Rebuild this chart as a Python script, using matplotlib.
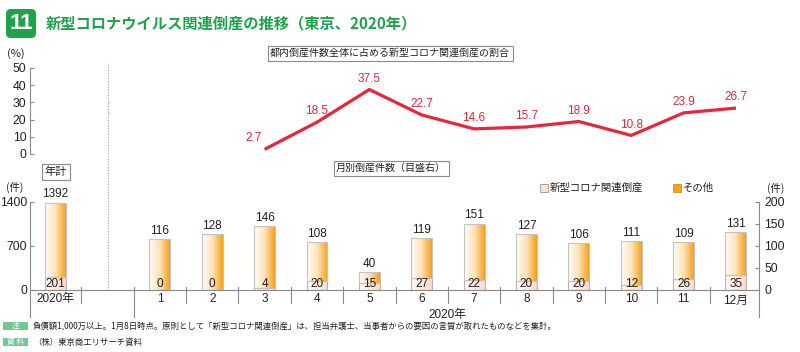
import numpy as np
import matplotlib
matplotlib.use("Agg")
import matplotlib.pyplot as plt
import matplotlib.transforms as mtransforms
from matplotlib.colors import LinearSegmentedColormap
from matplotlib.patches import FancyBboxPatch, Rectangle

# ---------------- data ----------------
year_label = "2020年"
year_total = 1392
year_corona = 201

months = np.arange(1, 13)
month_labels = ["1", "2", "3", "4", "5", "6", "7", "8", "9", "10", "11", "12月"]
month_total = [116, 128, 146, 108, 40, 119, 151, 127, 106, 111, 109, 131]
month_corona = [0, 0, 4, 20, 15, 27, 22, 20, 20, 12, 26, 35]

ratio_months = np.arange(3, 13)
ratio_values = [2.7, 18.5, 37.5, 22.7, 14.6, 15.7, 18.9, 10.8, 23.9, 26.7]

title = "新型コロナウイルス関連倒産の推移（東京、2020年）"
note = "負債額1,000万以上。1月8日時点。原則として「新型コロナ関連倒産」は、担当弁護士、当事者からの要因の言質が取れたものなどを集計。"
source = "（株）東京商工リサーチ資料"

# ---------------- style ----------------
NUM = ["Liberation Sans Narrow", "Liberation Sans", "Noto Sans CJK JP", "DejaVu Sans"]
JP = ["Noto Sans CJK JP", "DejaVu Sans"]
plt.rcParams["font.family"] = NUM
TXT = "#231f20"
GRAY = "#8a8a8a"
RED = "#e8253a"
GREEN = "#1fa24b"

W, H = 800, 352
fig = plt.figure(figsize=(W / 100, H / 100), dpi=100)


def fx(x):
    return x / W


def fy(y):
    return 1 - y / H


xl = (-1.48, 12.44)
year_x = -1.0
bar_w = 0.4

# ---------------- top panel (ratio line) ----------------
axt = fig.add_axes([fx(30), fy(154), 729 / W, 86 / H])
axt.set_xlim(*xl)
axt.set_ylim(0, 50)
axt.patch.set_visible(False)
for s in ["top", "right", "bottom"]:
    axt.spines[s].set_visible(False)
axt.spines["left"].set_color(GRAY)
axt.spines["left"].set_linewidth(0.8)
axt.set_xticks([])
axt.set_yticks(np.arange(0, 51, 10))
axt.tick_params(axis="y", direction="in", length=3, color=GRAY, labelsize=8.8,
                labelcolor=TXT, pad=2.5)

axt.plot(ratio_months, ratio_values, color=RED, lw=2.3, solid_joinstyle="miter",
         solid_capstyle="butt")
for i, (m, v) in enumerate(zip(ratio_months, ratio_values)):
    if i == 0:
        axt.annotate(f"{v}", (m, v), xytext=(-2, 4), textcoords="offset points",
                     ha="right", va="bottom", color=RED, fontsize=8.5)
    else:
        axt.annotate(f"{v}", (m, v), xytext=(0, 3.5), textcoords="offset points",
                     ha="center", va="bottom", color=RED, fontsize=8.5)

# ---------------- bottom panel (bars) ----------------
axb = fig.add_axes([fx(30), fy(290), 729 / W, 88 / H])
axr = axb.twinx()
axb.set_xlim(*xl)
axb.set_ylim(0, 1400)
axr.set_ylim(0, 200)
for a in (axb, axr):
    for s in a.spines.values():
        s.set_visible(False)
    a.set_xticks([])
axb.set_yticks([0, 700, 1400])
axb.tick_params(axis="y", direction="in", length=3, color=GRAY, labelsize=8.8,
                labelcolor=TXT, pad=2)
axr.set_yticks([0, 50, 100, 150, 200])
axr.tick_params(axis="y", direction="in", length=3, color=GRAY, labelsize=8.8,
                labelcolor=TXT, pad=4)

cm_other = LinearSegmentedColormap.from_list("oth", ["#fffdf8", "#fde3bb", "#f5a11c"])
cm_cor = LinearSegmentedColormap.from_list("cor", ["#fff9f6", "#fcdccb"])
grad = np.linspace(0, 1, 64).reshape(1, -1)


def shade(ax, container, cmap):
    for p in container.patches:
        bb = p.get_bbox()
        if bb.height <= 0:
            continue
        im = ax.imshow(grad, extent=[bb.x0, bb.x1, bb.y0, bb.y1], aspect="auto",
                       cmap=cmap, zorder=2, interpolation="bilinear")
        im.set_clip_path(p)
        p.set_facecolor("none")
        p.set_zorder(3)


# year bar on left scale
c1 = axb.bar([year_x], [year_corona], width=bar_w, edgecolor="#b3b3b3", lw=0.8)
c2 = axb.bar([year_x], [year_total - year_corona], bottom=[year_corona], width=bar_w,
             edgecolor="#c4c4c4", lw=0.8)
shade(axb, c1, cm_cor)
shade(axb, c2, cm_other)
axb.annotate(f"{year_total}", (year_x, year_total), xytext=(0, 1.5),
             textcoords="offset points", ha="center", va="bottom", fontsize=8.5, color=TXT)
axb.annotate(f"{year_corona}", (year_x, 0), xytext=(0, 0.3), textcoords="offset points",
             ha="center", va="bottom", fontsize=8.5, color=TXT, zorder=5)

# monthly bars on right scale
other = [t - c for t, c in zip(month_total, month_corona)]
c3 = axr.bar(months, month_corona, width=bar_w, edgecolor="#b3b3b3", lw=0.8)
c4 = axr.bar(months, other, bottom=month_corona, width=bar_w, edgecolor="#c4c4c4", lw=0.8)
shade(axr, c3, cm_cor)
shade(axr, c4, cm_other)
for m, t, c in zip(months, month_total, month_corona):
    axr.annotate(f"{t}", (m, t), xytext=(0, 1.5), textcoords="offset points",
                 ha="center", va="bottom", fontsize=8.5, color=TXT)
    axr.annotate(f"{c}", (m, 0), xytext=(0, 0.3), textcoords="offset points",
                 ha="center", va="bottom", fontsize=8.5, color=TXT, zorder=5)

for a in (axb, axr):
    a.set_xlim(*xl)
axb.set_ylim(0, 1400)
axr.set_ylim(0, 200)

# axis frame lines and category separators
tb = mtransforms.blended_transform_factory(axb.transData, axb.transAxes)
lkw = dict(color=GRAY, lw=0.8, transform=tb, clip_on=False, zorder=6)
axr.plot(xl, [0, 0], **lkw)
long_y = -27 / 88
short_y = -13 / 88
axr.plot([xl[0], xl[0]], [1, long_y], **lkw)
axr.plot([xl[1], xl[1]], [1, long_y], **lkw)
for s in np.arange(-0.5, 12, 1.0):
    axr.plot([s, s], [3 / 88, long_y if s == 0.5 else short_y], **lkw)

# x labels
axr.text(year_x, -9 / 88, year_label, transform=tb, ha="center", va="center",
         fontsize=8.5, color=TXT)
for m, lab in zip(months, month_labels):
    axr.text(m, -9 / 88 if lab.isdigit() else -11 / 88, lab, transform=tb,
             ha="center", va="center", fontsize=8.5, color=TXT)
axr.text(6.5, -25 / 88, "2020年", transform=tb, ha="center", va="center",
         fontsize=8.5, color=TXT)

# dotted divider across both panels
tf = mtransforms.blended_transform_factory(axb.transData, fig.transFigure)
axr.plot([0, 0], [fy(290), fy(62)], color="#9a9a9a", lw=0.8, ls=(0, (1, 1.5)),
         transform=tf, clip_on=False)

# ---------------- annotations ----------------
box = dict(boxstyle="square,pad=0.25", fc="white", ec="#8a8a8a", lw=0.8)
fig.text(fx(390), fy(53), "都内倒産件数全体に占める新型コロナ関連倒産の割合", ha="center",
         va="center", fontsize=7.2, family=JP, color=TXT, bbox=box)
fig.text(fx(391), fy(168), "月別倒産件数（目盛右）", ha="center", va="center",
         fontsize=7.2, family=JP, color=TXT, bbox=box)
fig.text(fx(56), fy(172), "年計", ha="center", va="center", fontsize=8, family=JP,
         color=TXT, bbox=dict(boxstyle="square,pad=0.25", fc="white", ec="#8a8a8a", lw=0.8))
fig.text(fx(16), fy(54), "(%)", ha="center", va="center", fontsize=8, family=JP, color=TXT)
fig.text(fx(15), fy(187), "(件)", ha="center", va="center", fontsize=7.5, family=JP, color=TXT)
fig.text(fx(776), fy(188), "(件)", ha="center", va="center", fontsize=7.5, family=JP, color=TXT)

# legend
fig.patches.append(Rectangle((fx(540), fy(192)), 8 / W, 8 / H, transform=fig.transFigure,
                             fc="#fde3d6", ec="#9a9a9a", lw=0.6))
fig.text(fx(550), fy(188), "新型コロナ関連倒産", ha="left", va="center", fontsize=7.5,
         family=JP, color=TXT)
fig.patches.append(Rectangle((fx(673), fy(192)), 8 / W, 8 / H, transform=fig.transFigure,
                             fc="#f6a31e", ec="#d88c10", lw=0.6))
fig.text(fx(683), fy(188), "その他", ha="left", va="center", fontsize=7.5,
         family=JP, color=TXT)

# title
fig.patches.append(FancyBboxPatch((fx(6), fy(38)), 30 / W, 29 / H,
                                  boxstyle="round,pad=0,rounding_size=0.006",
                                  transform=fig.transFigure, fc=GREEN, ec="none",
                                  mutation_aspect=W / H))
fig.text(fx(21), fy(23.5), "11", ha="center", va="center", fontsize=16, color="white",
         fontweight="bold", family=["Liberation Sans", "DejaVu Sans"])
fig.text(fx(46), fy(23), title, ha="left", va="center", fontsize=11, color=GREEN,
         fontweight="bold", family=JP)

# footer
for ytop, lab in [(322, "注"), (338, "資 料")]:
    fig.patches.append(Rectangle((fx(3), fy(ytop + 8)), 25 / W, 8 / H,
                                 transform=fig.transFigure, fc="#74c795", ec="none"))
    fig.text(fx(15.5), fy(ytop + 4), lab, ha="center", va="center", fontsize=5.5,
             color="white", family=JP)
fig.text(fx(33), fy(326.5), note, ha="left", va="center", fontsize=6.0, family=JP, color=TXT)
fig.text(fx(33), fy(342), source, ha="left", va="center", fontsize=6.0, family=JP, color=TXT)

fig.savefig("out.png", dpi=100)
